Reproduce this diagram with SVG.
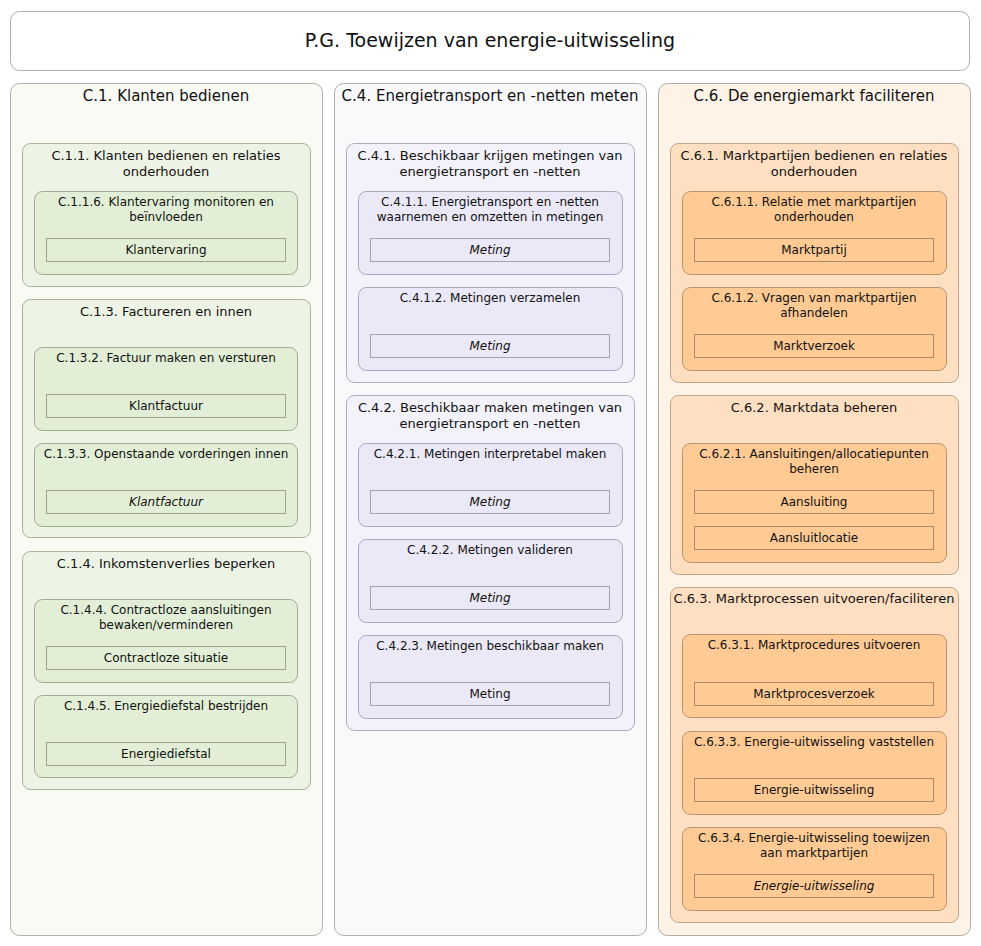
<svg xmlns="http://www.w3.org/2000/svg" width="981" height="946" viewBox="0 0 981 946">
  <style>
    text { font-family: "DejaVu Sans", "Liberation Sans", sans-serif; fill: #111; text-anchor: middle; }
    .title { font-size: 19px; }
    .h1 { font-size: 15px; }
    .h2 { font-size: 13px; }
    .h3 { font-size: 12px; }
    .it { font-size: 12px; }
    .em { font-style: italic; }
    .frame { fill: #ffffff; stroke: #b0b0b0; stroke-width: 1; }
    .g1 { fill: #f8faf3; stroke: #b0b0b0; }
    .g2 { fill: #eef4e5; stroke: #a8b098; }
    .g3 { fill: #e2efd6; stroke: #a0a890; }
    .gi { fill: #e2efd6; stroke: #9aa48c; }
    .p1 { fill: #f9f9fc; stroke: #b0b0b0; }
    .p2 { fill: #f3f2fb; stroke: #aeacbc; }
    .p3 { fill: #ebe9f7; stroke: #a8a6b8; }
    .pi { fill: #ebe9f7; stroke: #a2a0b2; }
    .o1 { fill: #fff3e8; stroke: #b8aca0; }
    .o2 { fill: #ffdfc2; stroke: #c0a48a; }
    .o3 { fill: #ffca94; stroke: #b8946e; }
    .oi { fill: #ffca94; stroke: #a88a6a; }
  </style>

  <!-- Title -->
  <g id="title">
    <rect class="frame" x="10.5" y="11.5" width="959" height="59" rx="9"/>
    <text class="title" x="490" y="47">P.G. Toewijzen van energie-uitwisseling</text>
  </g>

  <!-- Column C.1 -->
  <g id="C1">
    <rect class="g1" x="10.5" y="83.5" width="312" height="852" rx="9"/>
    <text class="h1" x="166" y="101">C.1. Klanten bedienen</text>
  </g>
  <g id="C1.1">
    <rect class="g2" x="22.5" y="143.5" width="288" height="143" rx="8"/>
    <text class="h2" x="166" y="160">C.1.1. Klanten bedienen en relaties</text>
    <text class="h2" x="166" y="176">onderhouden</text>
  </g>
  <g id="C1.1.6">
    <rect class="g3" x="34.5" y="191.5" width="263" height="83" rx="8"/>
    <text class="h3" x="166" y="206">C.1.1.6. Klantervaring monitoren en</text>
    <text class="h3" x="166" y="221">beïnvloeden</text>
    <rect class="gi" x="46.5" y="238.5" width="239" height="23"/>
    <text class="it" x="166" y="254">Klantervaring</text>
  </g>
  <g id="C1.3">
    <rect class="g2" x="22.5" y="299.5" width="288" height="238" rx="8"/>
    <text class="h2" x="166" y="316">C.1.3. Factureren en innen</text>
  </g>
  <g id="C1.3.2">
    <rect class="g3" x="34.5" y="347.5" width="263" height="83" rx="8"/>
    <text class="h3" x="166" y="362">C.1.3.2. Factuur maken en versturen</text>
    <rect class="gi" x="46.5" y="394.5" width="239" height="23"/>
    <text class="it" x="166" y="410">Klantfactuur</text>
  </g>
  <g id="C1.3.3">
    <rect class="g3" x="34.5" y="443.5" width="263" height="83" rx="8"/>
    <text class="h3" x="166" y="458">C.1.3.3. Openstaande vorderingen innen</text>
    <rect class="gi" x="46.5" y="490.5" width="239" height="23"/>
    <text class="it em" x="166" y="506">Klantfactuur</text>
  </g>
  <g id="C1.4">
    <rect class="g2" x="22.5" y="551.5" width="288" height="238" rx="8"/>
    <text class="h2" x="166" y="568">C.1.4. Inkomstenverlies beperken</text>
  </g>
  <g id="C1.4.4">
    <rect class="g3" x="34.5" y="599.5" width="263" height="83" rx="8"/>
    <text class="h3" x="166" y="614">C.1.4.4. Contractloze aansluitingen</text>
    <text class="h3" x="166" y="629">bewaken/verminderen</text>
    <rect class="gi" x="46.5" y="646.5" width="239" height="23"/>
    <text class="it" x="166" y="662">Contractloze situatie</text>
  </g>
  <g id="C1.4.5">
    <rect class="g3" x="34.5" y="695.5" width="263" height="82" rx="8"/>
    <text class="h3" x="166" y="710">C.1.4.5. Energiediefstal bestrijden</text>
    <rect class="gi" x="46.5" y="742.5" width="239" height="23"/>
    <text class="it" x="166" y="758">Energiediefstal</text>
  </g>

  <!-- Column C.4 -->
  <g id="C4">
    <rect class="p1" x="334.5" y="83.5" width="312" height="852" rx="9"/>
    <text class="h1" x="490" y="101">C.4. Energietransport en -netten meten</text>
  </g>
  <g id="C4.1">
    <rect class="p2" x="346.5" y="143.5" width="288" height="239" rx="8"/>
    <text class="h2" x="490" y="160">C.4.1. Beschikbaar krijgen metingen van</text>
    <text class="h2" x="490" y="176">energietransport en -netten</text>
  </g>
  <g id="C4.1.1">
    <rect class="p3" x="358.5" y="191.5" width="264" height="83" rx="8"/>
    <text class="h3" x="490" y="206">C.4.1.1. Energietransport en -netten</text>
    <text class="h3" x="490" y="221">waarnemen en omzetten in metingen</text>
    <rect class="pi" x="370.5" y="238.5" width="239" height="23"/>
    <text class="it em" x="490" y="254">Meting</text>
  </g>
  <g id="C4.1.2">
    <rect class="p3" x="358.5" y="287.5" width="264" height="83" rx="8"/>
    <text class="h3" x="490" y="302">C.4.1.2. Metingen verzamelen</text>
    <rect class="pi" x="370.5" y="334.5" width="239" height="23"/>
    <text class="it em" x="490" y="350">Meting</text>
  </g>
  <g id="C4.2">
    <rect class="p2" x="346.5" y="395.5" width="288" height="335" rx="8"/>
    <text class="h2" x="490" y="412">C.4.2. Beschikbaar maken metingen van</text>
    <text class="h2" x="490" y="428">energietransport en -netten</text>
  </g>
  <g id="C4.2.1">
    <rect class="p3" x="358.5" y="443.5" width="264" height="83" rx="8"/>
    <text class="h3" x="490" y="458">C.4.2.1. Metingen interpretabel maken</text>
    <rect class="pi" x="370.5" y="490.5" width="239" height="23"/>
    <text class="it em" x="490" y="506">Meting</text>
  </g>
  <g id="C4.2.2">
    <rect class="p3" x="358.5" y="539.5" width="264" height="83" rx="8"/>
    <text class="h3" x="490" y="554">C.4.2.2. Metingen valideren</text>
    <rect class="pi" x="370.5" y="586.5" width="239" height="23"/>
    <text class="it em" x="490" y="602">Meting</text>
  </g>
  <g id="C4.2.3">
    <rect class="p3" x="358.5" y="635.5" width="264" height="83" rx="8"/>
    <text class="h3" x="490" y="650">C.4.2.3. Metingen beschikbaar maken</text>
    <rect class="pi" x="370.5" y="682.5" width="239" height="23"/>
    <text class="it" x="490" y="698">Meting</text>
  </g>

  <!-- Column C.6 -->
  <g id="C6">
    <rect class="o1" x="658.5" y="83.5" width="312" height="852" rx="9"/>
    <text class="h1" x="814" y="101">C.6. De energiemarkt faciliteren</text>
  </g>
  <g id="C6.1">
    <rect class="o2" x="670.5" y="143.5" width="288" height="239" rx="8"/>
    <text class="h2" x="814" y="160">C.6.1. Marktpartijen bedienen en relaties</text>
    <text class="h2" x="814" y="176">onderhouden</text>
  </g>
  <g id="C6.1.1">
    <rect class="o3" x="682.5" y="191.5" width="264" height="83" rx="8"/>
    <text class="h3" x="814" y="206">C.6.1.1. Relatie met marktpartijen</text>
    <text class="h3" x="814" y="221">onderhouden</text>
    <rect class="oi" x="694.5" y="238.5" width="239" height="23"/>
    <text class="it" x="814" y="254">Marktpartij</text>
  </g>
  <g id="C6.1.2">
    <rect class="o3" x="682.5" y="287.5" width="264" height="83" rx="8"/>
    <text class="h3" x="814" y="302">C.6.1.2. Vragen van marktpartijen</text>
    <text class="h3" x="814" y="317">afhandelen</text>
    <rect class="oi" x="694.5" y="334.5" width="239" height="23"/>
    <text class="it" x="814" y="350">Marktverzoek</text>
  </g>
  <g id="C6.2">
    <rect class="o2" x="670.5" y="395.5" width="288" height="179" rx="8"/>
    <text class="h2" x="814" y="412">C.6.2. Marktdata beheren</text>
  </g>
  <g id="C6.2.1">
    <rect class="o3" x="682.5" y="443.5" width="264" height="119" rx="8"/>
    <text class="h3" x="814" y="458">C.6.2.1. Aansluitingen/allocatiepunten</text>
    <text class="h3" x="814" y="473">beheren</text>
    <rect class="oi" x="694.5" y="490.5" width="239" height="23"/>
    <text class="it" x="814" y="506">Aansluiting</text>
    <rect class="oi" x="694.5" y="526.5" width="239" height="23"/>
    <text class="it" x="814" y="542">Aansluitlocatie</text>
  </g>
  <g id="C6.3">
    <rect class="o2" x="670.5" y="587.5" width="288" height="335" rx="8"/>
    <text class="h2" x="814" y="603">C.6.3. Marktprocessen uitvoeren/faciliteren</text>
  </g>
  <g id="C6.3.1">
    <rect class="o3" x="682.5" y="634.5" width="264" height="83" rx="8"/>
    <text class="h3" x="814" y="649">C.6.3.1. Marktprocedures uitvoeren</text>
    <rect class="oi" x="694.5" y="682.5" width="239" height="23"/>
    <text class="it" x="814" y="698">Marktprocesverzoek</text>
  </g>
  <g id="C6.3.3">
    <rect class="o3" x="682.5" y="731.5" width="264" height="83" rx="8"/>
    <text class="h3" x="814" y="746">C.6.3.3. Energie-uitwisseling vaststellen</text>
    <rect class="oi" x="694.5" y="778.5" width="239" height="23"/>
    <text class="it" x="814" y="794">Energie-uitwisseling</text>
  </g>
  <g id="C6.3.4">
    <rect class="o3" x="682.5" y="827.5" width="264" height="83" rx="8"/>
    <text class="h3" x="814" y="842">C.6.3.4. Energie-uitwisseling toewijzen</text>
    <text class="h3" x="814" y="857">aan marktpartijen</text>
    <rect class="oi" x="694.5" y="874.5" width="239" height="23"/>
    <text class="it em" x="814" y="890">Energie-uitwisseling</text>
  </g>

  <!-- No connectors are drawn in this diagram -->
  <g id="connectors"/>
</svg>
